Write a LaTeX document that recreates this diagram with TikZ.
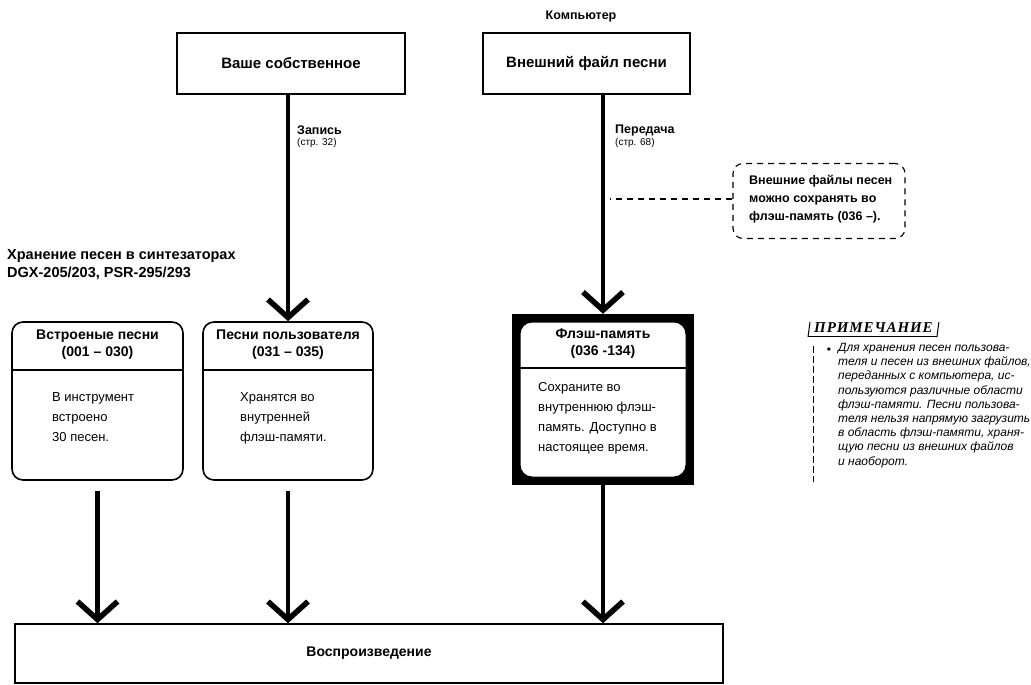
\documentclass[tikz,border=0pt]{standalone}
\usepackage{fontspec}
\setmainfont{Liberation Sans}
\newfontfamily\notehead[LetterSpace=6]{Liberation Serif}
\usetikzlibrary{arrows.meta,calc}
\begin{document}
\begin{tikzpicture}[x=1pt,y=-1pt,
  sq/.style={draw, line width=1.6pt, inner sep=0pt},
  rbox/.style={draw, line width=1.6pt, rounded corners=11pt, inner sep=0pt, minimum height=158pt},
  topbox/.style={sq, minimum height=61pt, font=\fontsize{15}{17}\selectfont\bfseries},
  ttl/.style={font=\fontsize{14}{17}\selectfont\bfseries, align=center, inner sep=0pt},
  body/.style={font=\fontsize{13}{20}\selectfont, align=left, inner sep=0pt, anchor=north west},
  lblb/.style={font=\fontsize{12.5}{15}\selectfont\bfseries, inner sep=0pt, anchor=west},
  lbls/.style={font=\fontsize{10}{12}\selectfont, inner sep=0pt, anchor=west},
  arr/.style={line width=4.5pt, -{Straight Barb[length=18pt,width=40pt,line width=5.5pt]}},
  dsh/.style={dash pattern=on 6pt off 5pt, line width=1.1pt}
]
\useasboundingbox (0,0) rectangle (1031,685);

% top boxes
\node[topbox, minimum width=228pt] (own) at (291,63.5) {Ваше собственное};
\node[topbox, minimum width=207pt] (ext) at (586.5,63.5) {Внешний файл песни};
\node[font=\fontsize{12.5}{14}\selectfont\bfseries, inner sep=0pt] (comp) at (581,16) {Компьютер};

% labels on the arrows
\node[lblb] (rec) at (297,130) {Запись};
\node[lbls] (recp) at (297,143) {(стр. 32)};
\node[lblb] (trn) at (615,130) {Передача};
\node[lbls] (trnp) at (615,143) {(стр. 68)};

% callout
\node[draw, dsh, rounded corners=10pt, minimum width=172pt, minimum height=75pt] (call) at (819,201) {};
\node[font=\fontsize{12.5}{18}\selectfont\bfseries, align=left, inner sep=0pt, anchor=north west] (callt) at (749,175) {Внешние файлы песен\\можно сохранять во\\флэш-память (036 –).};
\coordinate (lead) at (610,199);
\draw[dsh] (call.west |- lead) -- (lead);

% storage heading
\node[font=\fontsize{14.5}{18}\selectfont\bfseries, align=left, inner sep=0pt, anchor=north west] (store) at (7,249) {Хранение песен в синтезаторах\\DGX-205/203, PSR-295/293};

% preset songs
\node[rbox, minimum width=171pt] (b1) at (97.5,401) {};
\draw[line width=1.6pt] ($(b1.west)+(0,-31)$) -- ($(b1.east)+(0,-31)$);
\node[ttl] (b1t) at (97.5,345) {Встроеные песни\\(001 – 030)};
\node[body] (b1x) at (52,392) {В инструмент\\встроено\\30 песен.};

% user songs
\node[rbox, minimum width=170pt] (b2) at (288,401) {};
\draw[line width=1.6pt] ($(b2.west)+(0,-31)$) -- ($(b2.east)+(0,-31)$);
\node[ttl] (b2t) at (288,345) {Песни пользователя\\(031 – 035)};
\node[body] (b2x) at (240,392) {Хранятся во\\внутренней\\флэш-памяти.};

% flash memory
\node[fill=black, inner sep=0pt, minimum width=182pt, minimum height=171pt] (flashout) at (603,399.5) {};
\node[fill=white, draw, line width=1pt, rounded corners=12pt, inner sep=0pt, minimum width=166pt, minimum height=155pt] (flash) at (603,399.5) {};
\draw[line width=1.6pt] ($(flash.west)+(0,-31.5)$) -- ($(flash.east)+(0,-31.5)$);
\node[ttl] (flasht) at (603,344) {Флэш-память\\(036 -134)};
\node[body] (flashx) at (538,382) {Сохраните во\\внутреннюю флэш-\\память. Доступно в\\настоящее время.};

% playback
\node[sq, minimum width=708pt, minimum height=59pt, font=\fontsize{14}{16}\selectfont\bfseries] (play) at (369,653.5) {Воспроизведение};

% arrows
\draw[arr] (b2.north |- own.south) -- (b2.north);
\draw[arr] (flashout.north |- ext.south) -- (flashout.north);
\draw[arr, shorten <=10pt] (b1.south) -- (b1.south |- play.north);
\draw[arr, shorten <=10pt] (b2.south) -- (b2.south |- play.north);
\draw[arr] (flashout.south) -- (flashout.south |- play.north);

% note
\node[font=\fontsize{15}{17}\notehead\bfseries\itshape, inner sep=0pt, anchor=west] (nhead) at (814,328) {ПРИМЕЧАНИЕ};
\draw[line width=1pt] ($(nhead.south west)+(-6,3)$) -- ($(nhead.south east)+(4,3)$);
\draw[line width=1pt] ($(nhead.south west)+(-6,4)$) -- ($(nhead.north west)+(-4,-1)$);
\draw[line width=1pt] ($(nhead.south east)+(4,4)$) -- ($(nhead.north east)+(6,-1)$);
\draw[dash pattern=on 7pt off 3pt, line width=1pt] (813,346) -- (813,482);
\node[font=\fontsize{12}{14}\selectfont, inner sep=0pt] (bul) at (829,351) {•};
\node[font=\fontsize{12}{14.2}\selectfont\itshape, align=left, inner sep=0pt, anchor=north west] (ntext) at (838,343) {Для хранения песен пользова-\\теля и песен из внешних файлов,\\переданных с компьютера, ис-\\пользуются различные области\\флэш-памяти. Песни пользова-\\теля нельзя напрямую загрузить\\в область флэш-памяти, храня-\\щую песни из внешних файлов\\и наоборот.};
\end{tikzpicture}
\end{document}
